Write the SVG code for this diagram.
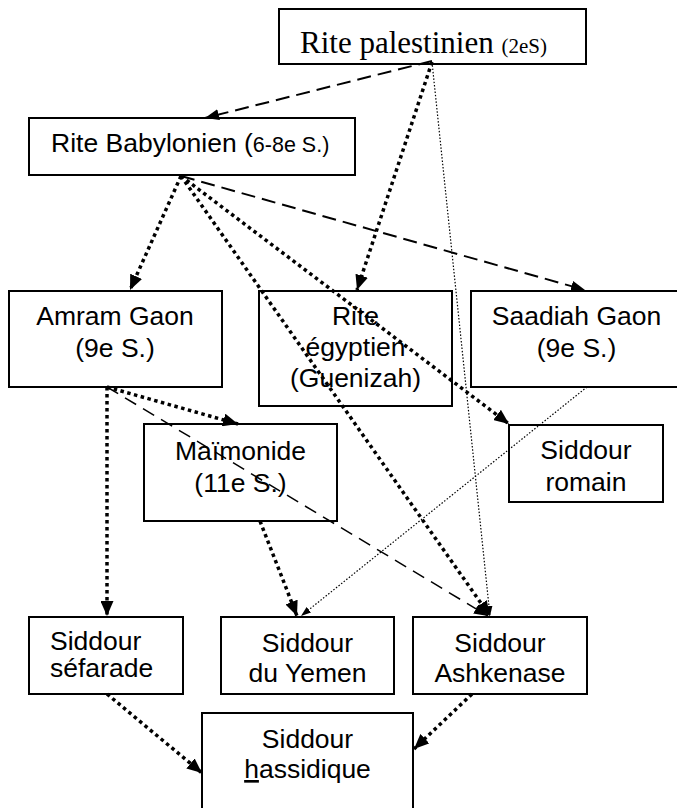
<svg xmlns="http://www.w3.org/2000/svg" width="677" height="808" viewBox="0 0 677 808">
<style>
.box{fill:#fff;stroke:#000;stroke-width:2}
.t{font-family:"Liberation Sans",Arial,sans-serif;font-size:26.5px;fill:#000}
.c{text-anchor:middle}
.serif{font-family:"Liberation Serif","Times New Roman",serif;fill:#000}
.dot{fill:none;stroke:#000;stroke-width:3.5;stroke-dasharray:3.5 3.5}
.dash{fill:none;stroke:#000;stroke-width:2;stroke-dasharray:14 7}
.dash2{fill:none;stroke:#000;stroke-width:1.5;stroke-dasharray:13 8}
.thin{fill:none;stroke:#000;stroke-width:1.2;stroke-dasharray:1.5 1.8}
</style>
<defs>
<marker id="aL" markerUnits="userSpaceOnUse" markerWidth="15" markerHeight="13" refX="15" refY="6.5" orient="auto"><path d="M0,0 L15,6.5 L0,13 z" fill="#000"/></marker>
<marker id="aM" markerUnits="userSpaceOnUse" markerWidth="14" markerHeight="11" refX="14" refY="5.5" orient="auto"><path d="M0,0 L14,5.5 L0,11 z" fill="#000"/></marker>
<marker id="aS" markerUnits="userSpaceOnUse" markerWidth="10" markerHeight="7" refX="10" refY="3.5" orient="auto"><path d="M0,0 L10,3.5 L0,7 z" fill="#000"/></marker>
</defs>
<rect width="677" height="808" fill="#fff"/>
<g id="nodes">
<g id="palestinien"><rect class="box" x="279" y="9" width="307" height="55"/><text class="serif" x="300" y="53" font-size="31">Rite palestinien <tspan font-size="21">(2eS)</tspan></text></g>
<g id="babylonien"><rect class="box" x="29" y="118" width="326" height="57"/><text class="t" x="51" y="152">Rite Babylonien (<tspan font-size="21.5">6-8e S.)</tspan></text></g>
<g id="amram"><rect class="box" x="9" y="291" width="213" height="96"/><text class="t c" x="115" y="325">Amram Gaon</text><text class="t c" x="115" y="357">(9e S.)</text></g>
<g id="egyptien"><rect class="box" x="259" y="291" width="193" height="115"/><text class="t c" x="355.5" y="325">Rite</text><text class="t c" x="355.5" y="356">égyptien</text><text class="t c" x="355.5" y="387">(Guenizah)</text></g>
<g id="saadiah"><rect class="box" x="471" y="291" width="209" height="96"/><text class="t c" x="576.5" y="325">Saadiah Gaon</text><text class="t c" x="576.5" y="357">(9e S.)</text></g>
<g id="maimonide"><rect class="box" x="144" y="424" width="193" height="97"/><text class="t c" x="240.5" y="460">Maïmonide</text><text class="t c" x="240.5" y="492">(11e S.)</text></g>
<g id="romain"><rect class="box" x="509" y="425" width="154" height="77"/><text class="t c" x="586" y="459">Siddour</text><text class="t c" x="586" y="491">romain</text></g>
<g id="sefarade"><rect class="box" x="29" y="617" width="154" height="77"/><text class="t" x="50" y="650" font-size="24">Siddour</text><text class="t" x="50" y="677" font-size="24">séfarade</text></g>
<g id="yemen"><rect class="box" x="221" y="617" width="173" height="77"/><text class="t c" x="307.5" y="652">Siddour</text><text class="t c" x="307.5" y="682">du Yemen</text></g>
<g id="ashkenase"><rect class="box" x="413" y="617" width="174" height="77"/><text class="t c" x="500" y="652">Siddour</text><text class="t c" x="500" y="682">Ashkenase</text></g>
<g id="hassidique"><rect class="box" x="202" y="713" width="211" height="105"/><text class="t c" x="307.5" y="748">Siddour</text><text class="t c" x="307.5" y="778"><tspan style="text-decoration:underline">h</tspan>assidique</text></g>
</g>
<g id="connectors">
<path class="dash" d="M432,61 L205,118" marker-end="url(#aM)"/>
<path class="dot" d="M432,62 L357,290" marker-end="url(#aL)"/>
<path class="thin" d="M432,62 L490,616" marker-end="url(#aS)"/>
<path class="dot" d="M181,176 L130,290" marker-end="url(#aL)"/>
<path class="dash" d="M181,176 L585,290" marker-end="url(#aM)"/>
<path class="dot" d="M181,176 L509,424" marker-end="url(#aL)"/>
<path class="dot" d="M181,176 L490,616" marker-end="url(#aL)"/>
<path class="dot" d="M107,387 L107,616" marker-end="url(#aL)"/>
<path class="dot" d="M107,387 L238,424" marker-end="url(#aL)"/>
<path class="dash2" d="M107,387 L488,616" marker-end="url(#aM)"/>
<path class="dot" d="M260,521 L297,616" marker-end="url(#aL)"/>
<path class="thin" d="M587,387 L301,616" marker-end="url(#aS)"/>
<path class="dot" d="M107,694 L202,773" marker-end="url(#aL)"/>
<path class="dot" d="M472,694 L414,749" marker-end="url(#aL)"/>
</g>
</svg>
